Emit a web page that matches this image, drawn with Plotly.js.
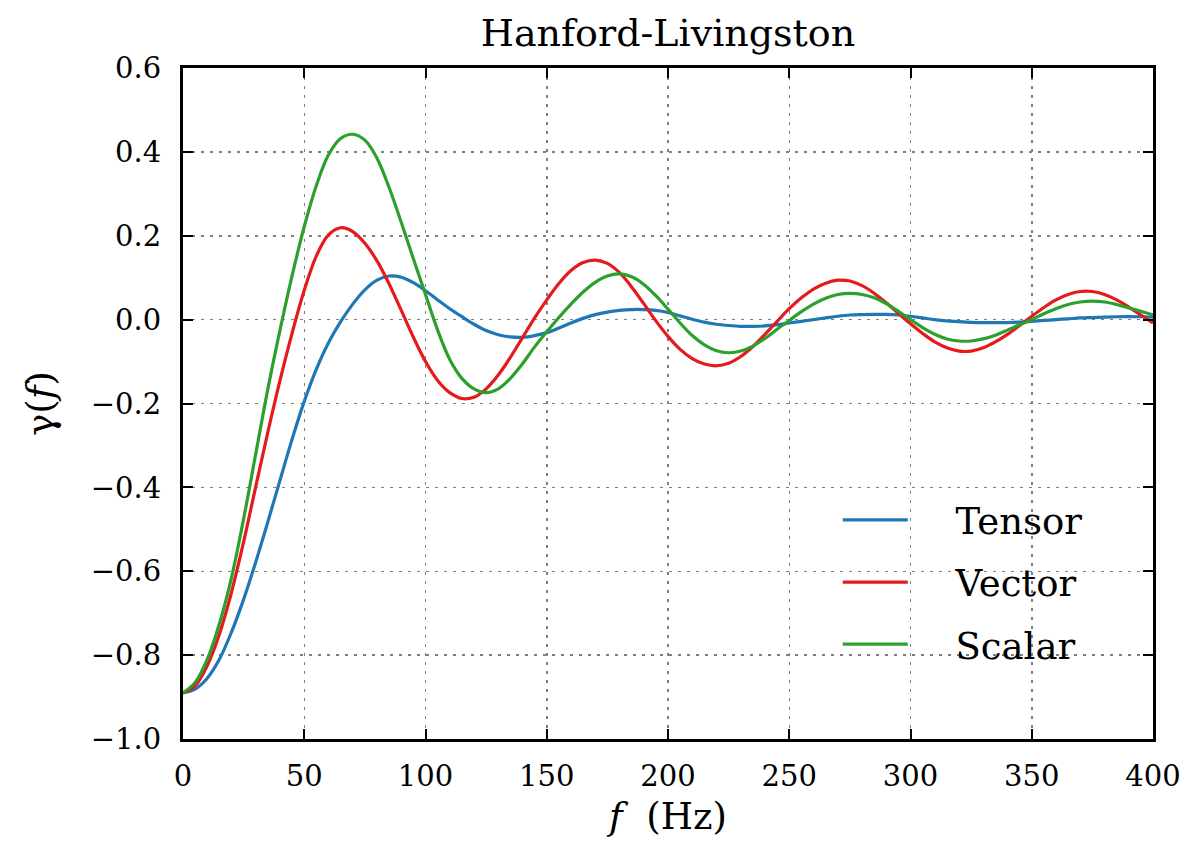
<!DOCTYPE html>
<html>
<head>
<meta charset="utf-8">
<script src="https://cdn.plot.ly/plotly-3.0.1.min.js"></script>
<style>
html,body{margin:0;padding:0;background:#fff}
#chart{width:1189px;height:861px}
</style>
</head>
<body>
<div id="chart"></div>
<script>
// Frequency grid (Hz), shared by all three series
const freq = [0,5,10,15,20,25,30,35,40,45,50,55,60,65,70,75,80,85,90,95,100,105,110,115,120,125,130,135,140,145,150,155,160,165,170,175,180,185,190,195,200,205,210,215,220,225,230,235,240,245,250,255,260,265,270,275,280,285,290,295,300,305,310,315,320,325,330,335,340,345,350,355,360,365,370,375,380,385,390,395,400];

// Tensor (blue)
const tensorG = [-0.89,-0.881,-0.855,-0.81,-0.745,-0.667,-0.578,-0.482,-0.383,-0.285,-0.195,-0.118,-0.055,-0.005,0.037,0.071,0.094,0.104,0.101,0.088,0.069,0.047,0.026,0.007,-0.011,-0.026,-0.036,-0.041,-0.042,-0.038,-0.031,-0.02,-0.008,0.003,0.012,0.018,0.022,0.024,0.024,0.022,0.017,0.009,0.001,-0.006,-0.011,-0.014,-0.016,-0.016,-0.015,-0.012,-0.008,-0.004,0.0,0.004,0.008,0.011,0.012,0.0125,0.0123,0.011,0.008,0.004,0.0,-0.003,-0.005,-0.0065,-0.0072,-0.0073,-0.007,-0.006,-0.004,-0.002,0.0,0.002,0.004,0.005,0.006,0.0068,0.007,0.0068,0.006];

// Vector (red)
const vectorG = [-0.89,-0.873,-0.825,-0.75,-0.65,-0.53,-0.398,-0.268,-0.145,-0.032,0.07,0.152,0.202,0.219,0.21,0.182,0.14,0.085,0.022,-0.042,-0.1,-0.145,-0.174,-0.188,-0.185,-0.165,-0.132,-0.09,-0.043,0.004,0.047,0.086,0.117,0.136,0.142,0.134,0.112,0.078,0.038,-0.003,-0.04,-0.071,-0.093,-0.106,-0.11,-0.104,-0.088,-0.064,-0.035,-0.004,0.026,0.052,0.073,0.087,0.094,0.092,0.081,0.063,0.04,0.015,-0.01,-0.033,-0.053,-0.067,-0.075,-0.075,-0.067,-0.053,-0.035,-0.014,0.008,0.029,0.047,0.06,0.067,0.067,0.06,0.047,0.03,0.011,-0.008];

// Scalar (green)
const scalarG = [-0.89,-0.865,-0.81,-0.725,-0.615,-0.475,-0.32,-0.165,-0.025,0.105,0.222,0.32,0.393,0.432,0.442,0.428,0.385,0.315,0.232,0.145,0.06,-0.025,-0.095,-0.14,-0.165,-0.174,-0.165,-0.14,-0.105,-0.065,-0.029,0.005,0.037,0.066,0.089,0.104,0.109,0.102,0.084,0.057,0.025,-0.008,-0.038,-0.06,-0.074,-0.079,-0.075,-0.063,-0.045,-0.023,-0.002,0.019,0.037,0.051,0.06,0.0625,0.06,0.052,0.038,0.02,0.0,-0.019,-0.035,-0.046,-0.051,-0.051,-0.046,-0.037,-0.025,-0.012,0.0,0.014,0.026,0.036,0.042,0.044,0.042,0.036,0.028,0.02,0.011];

const seriesNames = ['Tensor','Vector','Scalar'];
const seriesColors = ['#1f77b4','#e41a1c','#2ca02c'];
const xTicks = [0,50,100,150,200,250,300,350,400];
const yTicks = [-1.0,-0.8,-0.6,-0.4,-0.2,0.0,0.2,0.4,0.6];
const yTickText = ['\u22121.0','\u22120.8','\u22120.6','\u22120.4','\u22120.2','0.0','0.2','0.4','0.6'];

const FONT = 'DejaVu Serif';
const ys = [tensorG, vectorG, scalarG];
const traces = ys.map((y,i)=>({
  x: freq, y: y, type:'scatter', mode:'lines', name: '\u00a0\u00a0\u00a0\u2009' + seriesNames[i],
  legendgroup: 'g'+i,
  line:{color: seriesColors[i], width:3.2, shape:'spline', smoothing:1}
}));

const axisCommon = {
  showline:true, linecolor:'#000', linewidth:3, mirror:'ticks',
  ticks:'inside', ticklen:10, tickwidth:2, tickcolor:'#000',
  showgrid:true, gridcolor:'#808080', gridwidth:1.5, griddash:'3px,6px',
  zeroline:false, tickfont:{family:FONT, size:29, color:'#000'}
};

const layout = {
  width:1189, height:861,
  paper_bgcolor:'#fff', plot_bgcolor:'#fff',
  font:{family:FONT, color:'#000'},
  margin:{l:183, r:36, t:68, b:122},
  title:{text:'Hanford-Livingston', font:{family:FONT, size:38, color:'#000'}, x:0.5, xref:'paper', xanchor:'center', y:0.962, yref:'container', yanchor:'middle'},
  xaxis: Object.assign({}, axisCommon, {range:[0,400], tickvals:xTicks, ticktext:xTicks.map(String), ticklabelstandoff:9,
    title:{text:'<i>f</i>  (Hz)', font:{family:FONT, size:37, color:'#000'}, standoff:12}}),
  yaxis: Object.assign({}, axisCommon, {range:[-1.0,0.6], tickvals:yTicks, ticktext:yTickText, ticklabelstandoff:13,
    title:{text:'\u03b3(<i>f</i>)', font:{family:FONT, size:37, color:'#000'}, standoff:26}}),
  showlegend:true,
  legend:{x:0.675, y:0.372, xanchor:'left', yanchor:'top', bgcolor:'rgba(0,0,0,0)', borderwidth:0,
    font:{family:FONT, size:37, color:'#000'}, itemwidth:65, tracegroupgap:11, traceorder:'grouped'}
};

Plotly.newPlot('chart', traces, layout, {displayModeBar:false, staticPlot:true});
</script>
</body>
</html>
